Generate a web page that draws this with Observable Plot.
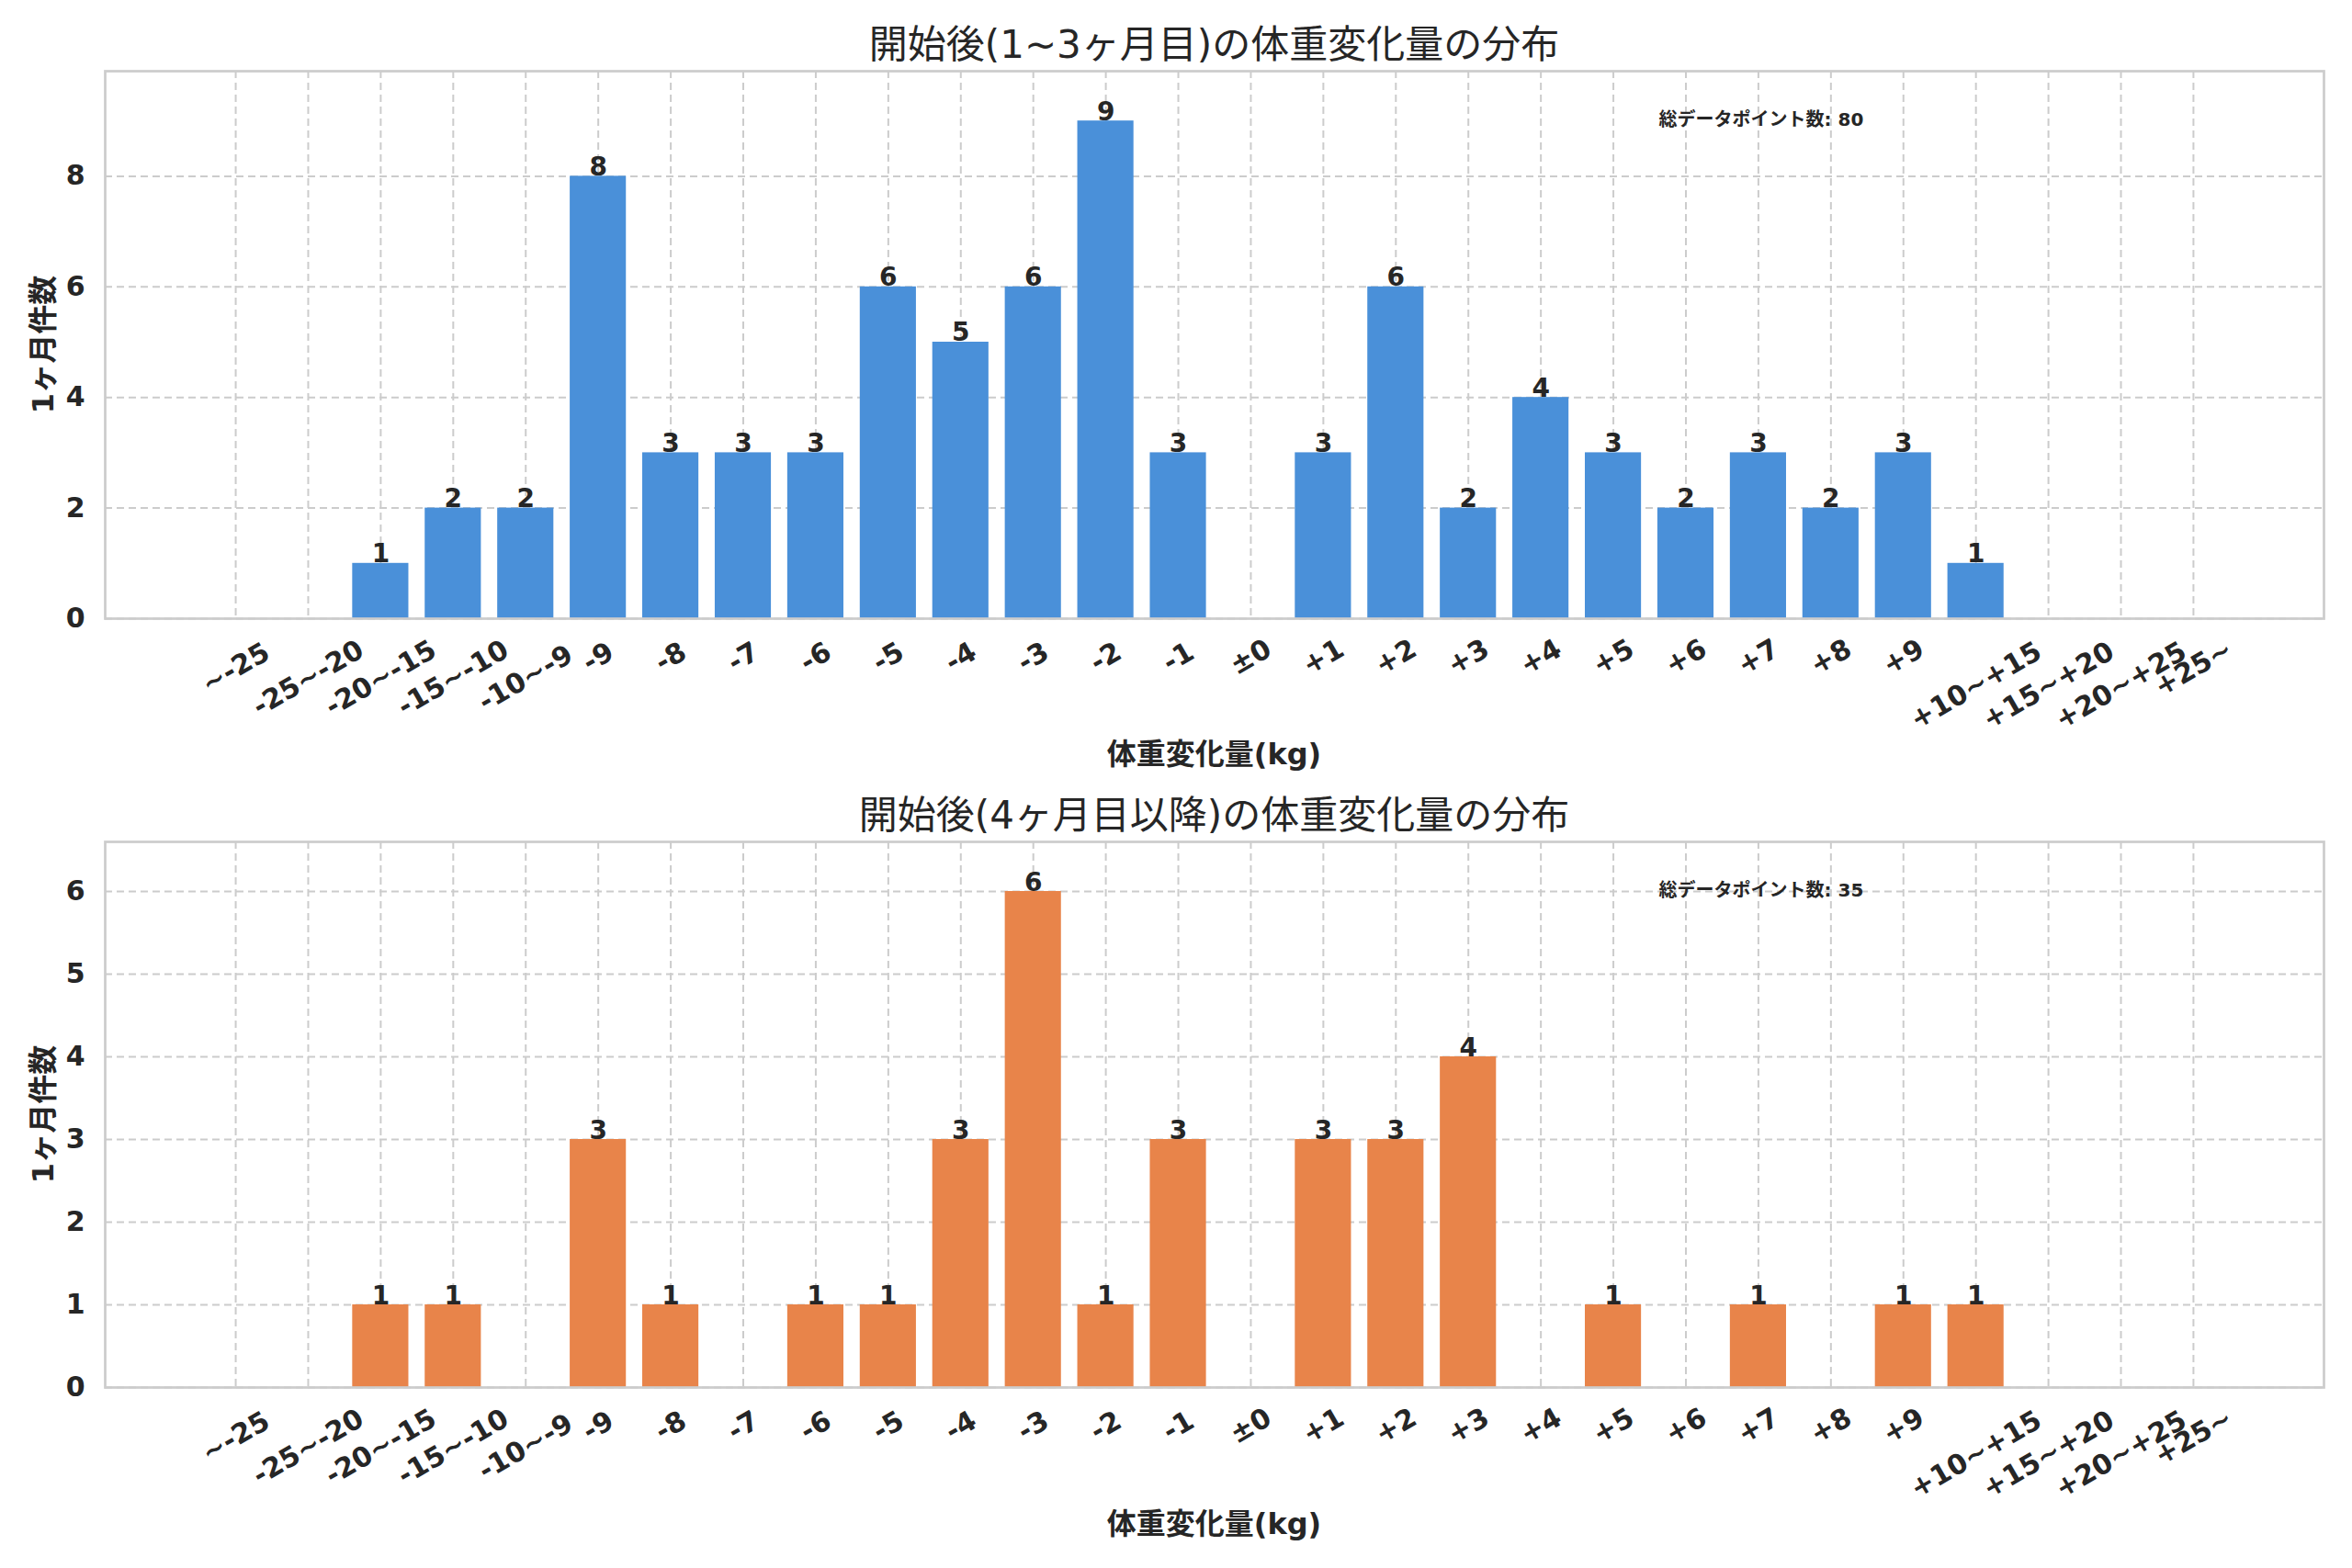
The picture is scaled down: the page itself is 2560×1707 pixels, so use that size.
<!DOCTYPE html>
<html><head><meta charset="utf-8">
<script src="https://cdn.jsdelivr.net/npm/d3@7"></script>
<script src="https://cdn.jsdelivr.net/npm/@observablehq/plot@0.6"></script>
<style>
body{margin:0;background:#fff;}
#root{position:relative;width:2560px;height:1707px;font-family:"DejaVu Sans","Noto Sans CJK JP",sans-serif;color:#262626;}
.t{position:absolute;z-index:2;white-space:nowrap;text-align:center;}
.title{left:114px;width:2415px;font-size:42px;line-height:50px;font-weight:normal;}
.xl{left:114px;width:2415px;font-size:32px;line-height:40px;font-weight:bold;}
.yl{font-size:32px;font-weight:bold;line-height:40px;transform:translate(-50%,-50%) rotate(-90deg);}
.wrap{position:absolute;left:0;z-index:1;}
</style></head><body><div id="root"></div>
<script>
const bins = ["~-25","-25~-20","-20~-15","-15~-10","-10~-9","-9","-8","-7","-6","-5","-4","-3","-2","-1","±0","+1","+2","+3","+4","+5","+6","+7","+8","+9","+10~+15","+15~+20","+20~+25","+25~"];
const countsEarly = [0,0,1,2,2,8,3,3,3,6,5,6,9,3,0,3,6,2,4,3,2,3,2,3,1,0,0,0];
const countsLate  = [0,0,1,1,0,3,1,0,1,1,3,6,1,3,0,3,3,4,0,1,0,1,0,1,1,0,0,0];
const titles = ["開始後(1~3ヶ月目)の体重変化量の分布", "開始後(4ヶ月目以降)の体重変化量の分布"];
const xLabel = "体重変化量(kg)";
const yLabel = "1ヶ月件数";
const annotLabel = "総データポイント数";
const yTicksEarly = [0,2,4,6,8];
const yTicksLate = [0,1,2,3,4,5,6];
const colors = ["#4A90D9", "#E8844A"];

const font = '"DejaVu Sans","Noto Sans CJK JP",sans-serif';
const root = document.getElementById("root");

const tickGroups = [
  {ticks: bins.filter(b => !b.includes("~")), pad: 42},
  {ticks: bins.filter(b => b.startsWith("~") || b.endsWith("~")), pad: 54},
  {ticks: bins.filter(b => b.includes("~") && b.startsWith("-")), pad: 65},
  {ticks: bins.filter(b => b.includes("~") && b.startsWith("+") && !b.endsWith("~")), pad: 73}
];

function addDiv(cls, text, style) {
  const d = document.createElement("div");
  d.className = "t " + cls;
  d.textContent = text;
  Object.assign(d.style, style);
  root.appendChild(d);
}

function panel(counts, yTicks, color, top, marginTop, innerH) {
  const data = bins.map((b, i) => ({bin: b, count: counts[i]}));
  const ymax = d3.max(counts) * 1.1;
  const total = d3.sum(counts);
  const gridStyle = {stroke: "#cccccc", strokeOpacity: 1, strokeWidth: 2, strokeDasharray: "8,5"};
  const chart = Plot.plot({
    width: 2560,
    height: marginTop + innerH + 180,
    marginLeft: 114, marginRight: 31, marginTop: marginTop, marginBottom: 180,
    style: {fontFamily: font, fontSize: "30px", fontWeight: "bold", color: "#262626", background: "transparent", overflow: "visible"},
    x: {type: "band", domain: bins, paddingInner: 0.2, paddingOuter: 1.4, round: false, label: null},
    y: {domain: [0, ymax], label: null},
    marks: [
      Plot.gridY(yTicks, gridStyle),
      Plot.gridX(bins, gridStyle),
      Plot.barY(data, {x: "bin", y: "count", fill: color, insetLeft: 1, insetRight: 1}),
      Plot.text(data.filter(d => d.count > 0), {x: "bin", y: "count", text: d => String(d.count), lineAnchor: "bottom", dy: -1, fontSize: 28, fontWeight: "bold", fill: "#262626"}),
      Plot.text([`${annotLabel}: ${total}`], {frameAnchor: "top-left", dx: 1691, dy: 59, lineAnchor: "bottom", textAnchor: "start", fontSize: 20, fontWeight: "bold", fill: "#262626"}),
      Plot.axisY(yTicks, {tickSize: 0, tickPadding: 22, tickFormat: d3.format("d"), label: null, fontSize: 30, fontWeight: "bold"}),
      ...tickGroups.map(g => Plot.axisX(g.ticks, {tickSize: 0, tickPadding: g.pad, tickRotate: -30, textAnchor: "middle", lineAnchor: "middle", label: null, fontSize: 30, fontWeight: "bold"})),
      Plot.frame({stroke: "#cccccc", strokeWidth: 2.7})
    ]
  });
  const w = document.createElement("div");
  w.className = "wrap";
  w.style.top = top + "px";
  w.appendChild(chart);
  root.appendChild(w);
}

panel(countsEarly, yTicksEarly, colors[0], 0, 77, 596);
panel(countsLate, yTicksLate, colors[1], 860, 56, 594);

addDiv("title", titles[0], {top: "24px"});
addDiv("title", titles[1], {top: "863px"});
addDiv("xl", xLabel, {top: "801px"});
addDiv("xl", xLabel, {top: "1639px"});
addDiv("yl", yLabel, {left: "47px", top: "375px"});
addDiv("yl", yLabel, {left: "47px", top: "1213px"});
</script>
</body></html>
